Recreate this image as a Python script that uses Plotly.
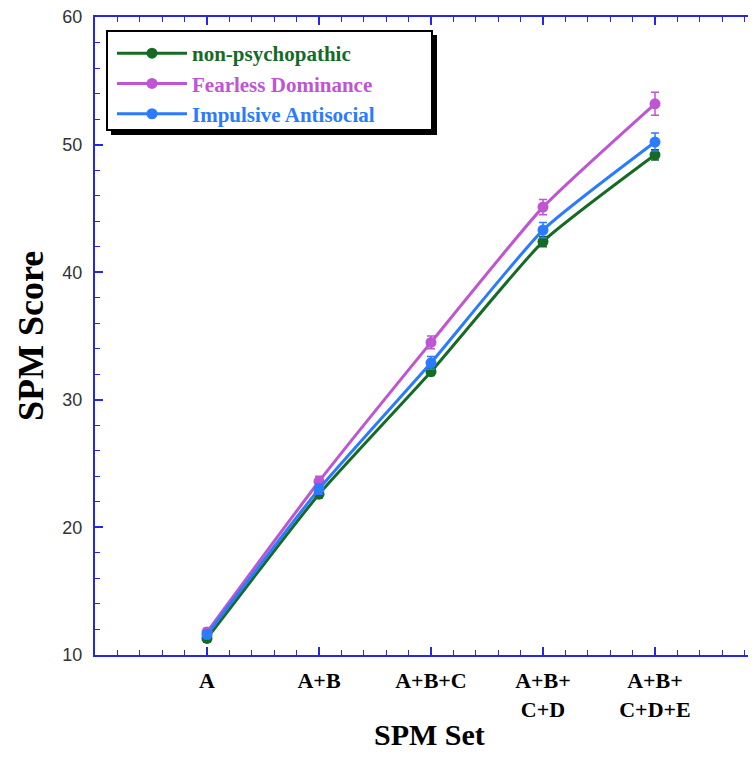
import plotly.graph_objects as go

categories = ["A", "A+B", "A+B+C", "A+B+<br>C+D", "A+B+<br>C+D+E"]
x_pos = [1, 2, 3, 4, 5]

non_psychopathic = [11.3, 22.6, 32.2, 42.4, 49.2]
non_psychopathic_err = [0.3, 0.3, 0.3, 0.4, 0.4]
fearless_dominance = [11.8, 23.6, 34.5, 45.1, 53.2]
fearless_dominance_err = [0.3, 0.4, 0.5, 0.6, 0.9]
impulsive_antisocial = [11.6, 23.0, 32.9, 43.3, 50.2]
impulsive_antisocial_err = [0.3, 0.4, 0.5, 0.6, 0.7]

series = [
    ("non-psychopathic", non_psychopathic, non_psychopathic_err, "#156b24"),
    ("Fearless Dominance", fearless_dominance, fearless_dominance_err, "#bf55d2"),
    ("Impulsive Antisocial", impulsive_antisocial, impulsive_antisocial_err, "#2b7bff"),
]

serif = "Liberation Serif, Times New Roman, serif"
sans = "Liberation Sans, Arial, sans-serif"
axis_blue = "#2626e6"

fig = go.Figure()
for name, vals, errs, col in series:
    fig.add_trace(go.Scatter(
        x=x_pos, y=vals, name=f"<b><span style='color:{col}'>{name}</span></b>",
        mode="lines+markers",
        line=dict(color=col, width=3, shape="spline", smoothing=0.5),
        marker=dict(color=col, size=11),
        error_y=dict(type="data", array=errs, color=col, thickness=1.5, width=4),
    ))

OFF = 8  # page body margin
W, H = 756 - OFF, 758 - 2 * OFF
L, T = 95 - OFF, 17 - OFF
B = H - (655 - OFF)
R = 0
pw, ph = W - L - R, H - T - B

def px_x(px):
    return (px - OFF - L) / pw

def px_y(py):
    return 1 - (py - OFF - T) / ph

# legend shadow and box
fig.add_shape(type="rect", xref="paper", yref="paper",
              x0=px_x(111), x1=px_x(437), y0=px_y(135), y1=px_y(35),
              fillcolor="black", line=dict(width=0), layer="above")
fig.add_shape(type="rect", xref="paper", yref="paper",
              x0=px_x(107), x1=px_x(432), y0=px_y(130), y1=px_y(31),
              fillcolor="white", line=dict(color="black", width=2), layer="above")

fig.add_annotation(text="<b>SPM Set</b>", xref="paper", yref="paper",
                   x=px_x(430), y=px_y(734), showarrow=False,
                   xanchor="center", yanchor="middle",
                   font=dict(family=serif, size=30, color="black"))
fig.add_annotation(text="<b>SPM Score</b>", xref="paper", yref="paper",
                   x=px_x(31), y=px_y(336), showarrow=False, textangle=-90,
                   xanchor="center", yanchor="middle",
                   font=dict(family=serif, size=36, color="black"))

fig.update_layout(
    width=W, height=H,
    margin=dict(l=L, r=R, t=T, b=B),
    plot_bgcolor="white", paper_bgcolor="white",
    showlegend=True,
    legend=dict(
        x=px_x(112), y=px_y(33), xanchor="left", yanchor="top",
        bgcolor="rgba(0,0,0,0)", borderwidth=0,
        font=dict(family=serif, size=21, color="black"),
        tracegroupgap=0, itemwidth=70,
    ),
    xaxis=dict(
        range=[0, pw / 112.0], tickmode="array", tickvals=x_pos,
        ticktext=[f"<b>{c}</b>" for c in categories],
        ticks="inside", ticklen=8, tickwidth=1.5, tickcolor=axis_blue,
        showline=True, linecolor=axis_blue, linewidth=2, mirror="allticks",
        showgrid=False, zeroline=False, automargin=False,
        minor=dict(dtick=0.2, ticks="inside", ticklen=5, tickcolor=axis_blue, tickwidth=1, showgrid=False),
        tickfont=dict(family=serif, size=22, color="black"),
        ticklabelstandoff=5,
    ),
    yaxis=dict(
        range=[10, 60], dtick=10,
        ticks="inside", ticklen=8, tickwidth=1.5, tickcolor=axis_blue,
        showline=True, linecolor=axis_blue, linewidth=2, mirror="allticks",
        showgrid=False, zeroline=False, automargin=False,
        minor=dict(dtick=2, ticks="inside", ticklen=5, tickcolor=axis_blue, tickwidth=1, showgrid=False),
        tickfont=dict(family=sans, size=18, color="#333333"),
        ticklabelstandoff=7, ticklabeloverflow="allow",
    ),
)

fig.write_html("out.html")
